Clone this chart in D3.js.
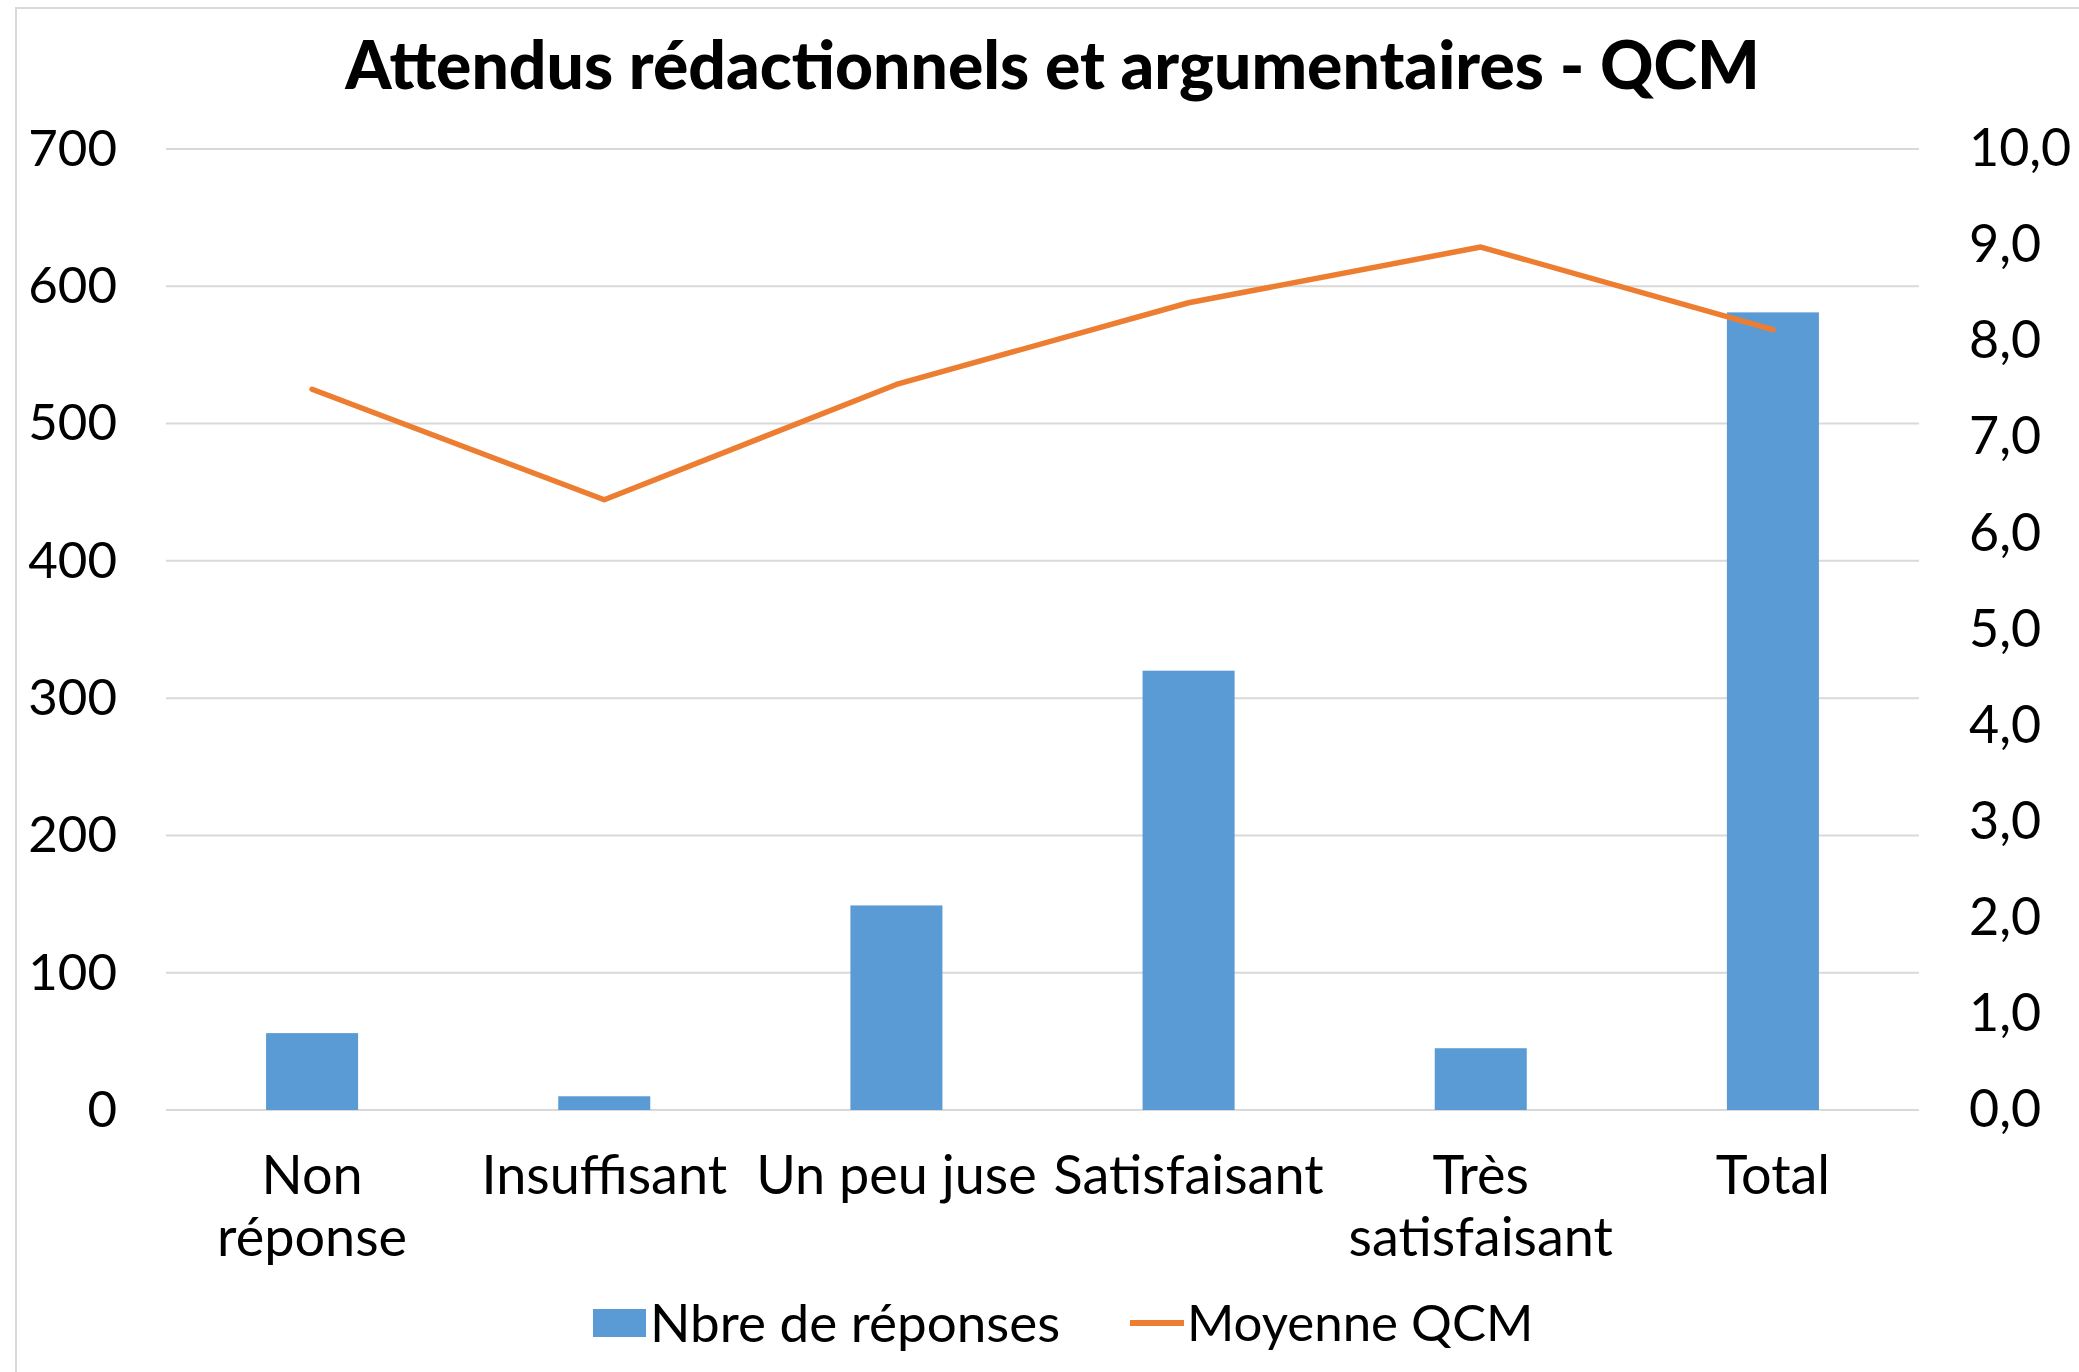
<!DOCTYPE html>
<html>
<head>
<meta charset="utf-8">
<script src="https://cdn.jsdelivr.net/npm/d3@7"></script>
<style>
  body { margin: 0; background: #fff; }
  text { font-family: Lato, "Open Sans", sans-serif; fill: #000; }
</style>
</head>
<body>
<div id="chart"></div>
<script>
// data
var categories = ["Non réponse", "Insuffisant", "Un peu juse", "Satisfaisant", "Très satisfaisant", "Total"];
var labelLines = [["Non", "réponse"], ["Insuffisant"], ["Un peu juse"], ["Satisfaisant"], ["Très", "satisfaisant"], ["Total"]];
var nbreReponses = [56, 10, 149, 320, 45, 581];
var moyenneQCM = [7.5, 6.35, 7.55, 8.4, 8.98, 8.12];
var leftTicks = [0, 100, 200, 300, 400, 500, 600, 700];
var rightTicks = [0, 1, 2, 3, 4, 5, 6, 7, 8, 9, 10];

var W = 2079, H = 1372;
var margin = {top: 149, right: 160, bottom: 262, left: 166},
    width = W - margin.left - margin.right,
    height = H - margin.top - margin.bottom;

var svg = d3.select("#chart").append("svg")
    .attr("width", W)
    .attr("height", H);

// chart border
svg.append("rect")
    .attr("x", 16).attr("y", 8)
    .attr("width", W + 20).attr("height", H + 20)
    .attr("fill", "none")
    .attr("stroke", "#d9d9d9")
    .attr("stroke-width", 2);

svg.append("text")
    .attr("x", (16 + W) / 2 + 5)
    .attr("y", 66)
    .attr("dy", "0.35em")
    .style("text-anchor", "middle")
    .style("font-weight", "900")
    .style("font-size", "66px")
    .text("Attendus rédactionnels et argumentaires - QCM");

var g = svg.append("g")
    .attr("transform", "translate(" + margin.left + "," + margin.top + ")");

var x = d3.scaleBand().domain(categories).range([0, width]).paddingInner(0.685).paddingOuter(0.3425);
var y = d3.scaleLinear().domain([0, 700]).range([height, 0]);
var y2 = d3.scaleLinear().domain([0, 10]).range([height, 0]);

// gridlines
g.append("g")
    .selectAll("line")
    .data(leftTicks)
  .enter().append("line")
    .attr("x1", 0).attr("x2", width)
    .attr("y1", function(d) { return y(d); })
    .attr("y2", function(d) { return y(d); })
    .attr("stroke", "#d9d9d9")
    .attr("stroke-width", 2);

// left axis
var yAxis = d3.axisLeft(y).tickValues(leftTicks).tickSize(0).tickPadding(49);
g.append("g").call(yAxis)
    .call(function(a) { a.select(".domain").remove(); })
  .selectAll("text")
    .style("font-size", "51px")
    .style("font-family", "Lato, sans-serif");

// right axis
var fmt = function(d) { return d3.format(".1f")(d).replace(".", ","); };
var y2Axis = d3.axisRight(y2).tickValues(rightTicks).tickFormat(fmt).tickSize(0).tickPadding(50);
g.append("g")
    .attr("transform", "translate(" + width + ",0)")
    .call(y2Axis)
    .call(function(a) { a.select(".domain").remove(); })
  .selectAll("text")
    .style("font-size", "52px")
    .style("font-family", "Lato, sans-serif");

// bars
g.selectAll(".bar")
    .data(nbreReponses)
  .enter().append("rect")
    .attr("class", "bar")
    .attr("x", function(d, i) { return x(categories[i]); })
    .attr("width", x.bandwidth())
    .attr("y", function(d) { return y(d); })
    .attr("height", function(d) { return height - y(d); })
    .attr("fill", "#5b9bd5");

// line
var line = d3.line()
    .x(function(d, i) { return x(categories[i]) + x.bandwidth() / 2; })
    .y(function(d) { return y2(d); });
g.append("path")
    .datum(moyenneQCM)
    .attr("d", line)
    .attr("fill", "none")
    .attr("stroke", "#ed7d31")
    .attr("stroke-width", 5.5)
    .attr("stroke-linejoin", "round")
    .attr("stroke-linecap", "round");

// category labels
var cl = g.append("g").selectAll("text")
    .data(labelLines)
  .enter().append("text")
    .attr("x", function(d, i) { return x(categories[i]) + x.bandwidth() / 2; })
    .attr("y", height + 84)
    .attr("dy", "0.35em")
    .style("text-anchor", "middle")
    .style("font-size", "54px");
cl.selectAll("tspan")
    .data(function(d) { return d; })
  .enter().append("tspan")
    .attr("x", function() { return d3.select(this.parentNode).attr("x"); })
    .attr("dy", function(d, i) { return i === 0 ? 0 : 62; })
    .text(function(d) { return d; });

// legend
var leg = svg.append("g").attr("transform", "translate(0,1323)");
leg.append("rect")
    .attr("x", 593).attr("y", -14)
    .attr("width", 53).attr("height", 28)
    .attr("fill", "#5b9bd5");
leg.append("text")
    .attr("x", 650).attr("y", 0).attr("dy", "0.35em")
    .style("font-size", "53px")
    .text("Nbre de réponses");
leg.append("line")
    .attr("x1", 1130).attr("x2", 1184)
    .attr("y1", 0).attr("y2", 0)
    .attr("stroke", "#ed7d31")
    .attr("stroke-width", 6);
leg.append("text")
    .attr("x", 1187).attr("y", 0).attr("dy", "0.35em")
    .style("font-size", "51px")
    .text("Moyenne QCM");
</script>
</body>
</html>
